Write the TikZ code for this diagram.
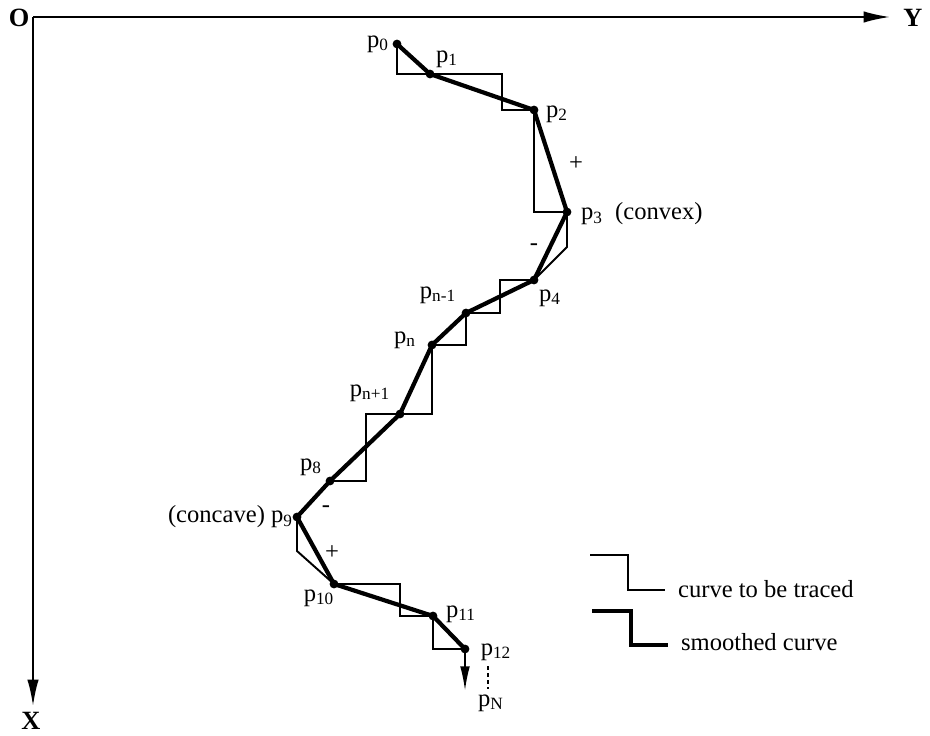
\documentclass[tikz,border=0pt]{standalone}
\usepackage{fontspec}
\setmainfont{Liberation Serif}
\usetikzlibrary{arrows.meta}
\begin{document}
\begin{tikzpicture}[x=0.02cm,y=-0.02cm]
	% Styles
	\tikzstyle{axe}=[-{Latex[length=15pt,width=6.5pt]},line width=1.1pt]
	\tikzstyle{trace}=[line width=1.1pt,line join=miter]
	\tikzstyle{lissee}=[line width=2.4pt,line join=round]
	\tikzstyle{point}=[circle,fill,inner sep=0pt,minimum size=5pt]
	\tikzstyle{etiquette}=[inner sep=1pt,font=\fontsize{14}{16}\selectfont]
	\tikzstyle{signe}=[inner sep=1pt,font=\fontsize{14}{16}\selectfont]
	% Cadre
	\useasboundingbox (0,0) rectangle (930,736);
	% Axes
	\coordinate (O) at (33,17);
	\coordinate (Yfin) at (890,17);
	\coordinate (Xfin) at (33,706);
	\draw[axe] (O)--(Yfin);
	\draw[axe] (O)--(Xfin);
	\node[etiquette,font=\fontsize{15}{16}\selectfont\bfseries] (origine) at (19,18) {O};
	\node[etiquette,font=\fontsize{15}{16}\selectfont\bfseries] (axeY) at (913,18) {Y};
	\node[etiquette,font=\fontsize{15}{16}\selectfont\bfseries] (axeX) at (31,721) {X};
	% Points
	\node[point] (p0) at (397,44) {};
	\node[point] (p1) at (430,74) {};
	\node[point] (p2) at (534,110) {};
	\node[point] (p3) at (567,212) {};
	\node[point] (p4) at (534,280) {};
	\node[point] (pnm) at (466,313) {};
	\node[point] (pn) at (432,345) {};
	\node[point] (pnp) at (400,414) {};
	\node[point] (p8) at (330,481) {};
	\node[point] (p9) at (297,517) {};
	\node[point] (p10) at (334,584) {};
	\node[point] (p11) at (433,616) {};
	\node[point] (p12) at (465,649) {};
	% Coins de l'escalier
	\coordinate (c1) at (397,74);
	\coordinate (c2) at (502,74);
	\coordinate (c3) at (502,110);
	\coordinate (c4) at (534,212);
	\coordinate (c5) at (567,247);
	\coordinate (c6) at (500,280);
	\coordinate (c7) at (500,313);
	\coordinate (c8) at (466,345);
	\coordinate (c9) at (432,414);
	\coordinate (c10) at (366,414);
	\coordinate (c11) at (366,481);
	\coordinate (c12) at (297,551);
	\coordinate (c13) at (400,584);
	\coordinate (c14) at (400,616);
	\coordinate (c15) at (433,649);
	\coordinate (fin) at (465,691);
	% Courbe a tracer
	\draw[trace] (p0.center)--(c1)--(c2)--(c3)--(p2.center)--(c4)--(p3.center)--(c5)--(p4.center)
		--(c6)--(c7)--(pnm.center)--(c8)--(pn.center)--(c9)--(c10)--(c11)--(p8.center)
		--(p9.center)--(c12)--(p10.center)--(c13)--(c14)--(p11.center)--(c15)--(p12.center);
	% Courbe lissee
	\draw[lissee] (p0.center)--(p1.center)--(p2.center)--(p3.center)--(p4.center)--(pnm.center)
		--(pn.center)--(pnp.center)--(p8.center)--(p9.center)--(p10.center)--(p11.center)--(p12.center);
	\draw[-{Latex[length=14pt,width=5.5pt]},line width=1.1pt] (p12.center)--(fin);
	% Etiquettes
	\node[etiquette] (l0) at (378,44) {p\textsubscript{0}};
	\node[etiquette] (l1) at (447,59) {p\textsubscript{1}};
	\node[etiquette] (l2) at (557,114) {p\textsubscript{2}};
	\node[etiquette,anchor=west] (l3) at (579,214) {p\textsubscript{3}\ \ (convex)};
	\node[etiquette] (l4) at (550,298) {p\textsubscript{4}};
	\node[etiquette] (lnm) at (438,295) {p\textsubscript{n-1}};
	\node[etiquette] (ln) at (405,340) {p\textsubscript{n}};
	\node[etiquette] (lnp) at (370,393) {p\textsubscript{n+1}};
	\node[etiquette] (l8) at (311,467) {p\textsubscript{8}};
	\node[etiquette,anchor=east] (l9) at (295,517) {(concave)\ p\textsubscript{9}};
	\node[etiquette] (l10) at (319,598) {p\textsubscript{10}};
	\node[etiquette] (l11) at (461,614) {p\textsubscript{11}};
	\node[etiquette] (l12) at (496,652) {p\textsubscript{12}};
	\node[etiquette] (lN) at (491,703) {p\textsubscript{N}};
	\coordinate (t1) at (488,666);
	\coordinate (t2) at (488,689);
	\draw[dashed,line width=0.8pt,dash pattern=on 2.5pt off 1.5pt] (t1)--(t2);
	% Signes
	\node[signe] (s1) at (576,164) {+};
	\node[signe] (s2) at (534,247) {-};
	\node[signe] (s3) at (326,509) {-};
	\node[signe] (s4) at (332,553) {+};
	% Legende
	\coordinate (a1) at (590,555);
	\coordinate (a2) at (628,555);
	\coordinate (a3) at (628,590);
	\coordinate (a4) at (665,590);
	\coordinate (b1) at (592,611);
	\coordinate (b2) at (631,611);
	\coordinate (b3) at (631,645);
	\coordinate (b4) at (668,645);
	\draw[trace] (a1)--(a2)--(a3)--(a4);
	\draw[lissee,line join=miter] (b1)--(b2)--(b3)--(b4);
	\node[etiquette,anchor=west] (leg1) at (676,589) {curve to be traced};
	\node[etiquette,anchor=west] (leg2) at (679,642) {smoothed curve};
\end{tikzpicture}
\end{document}
